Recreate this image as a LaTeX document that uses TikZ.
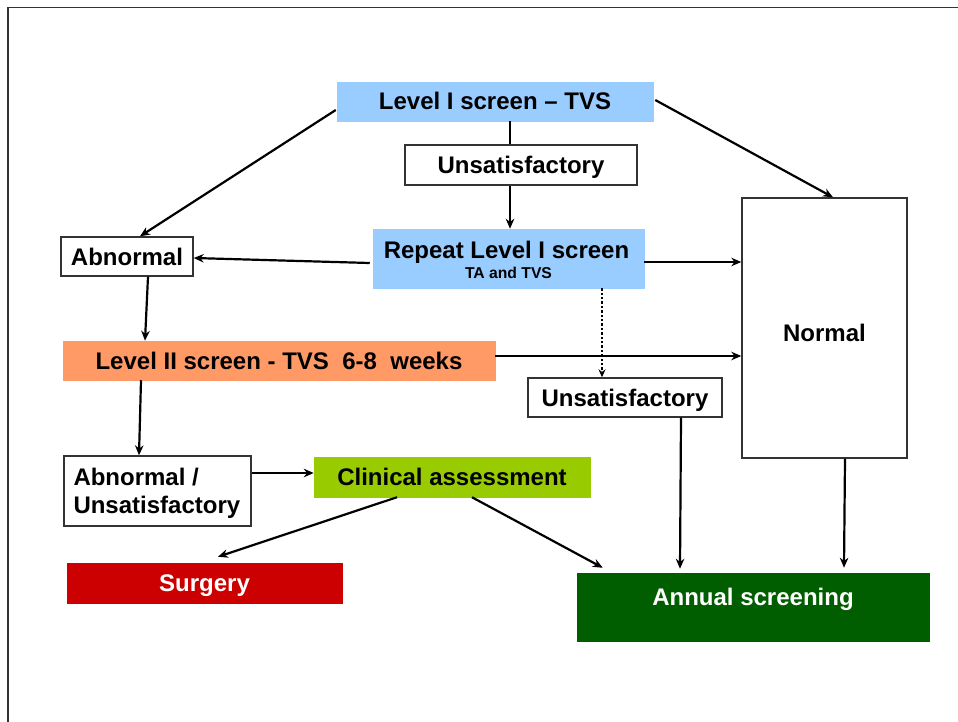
\documentclass[tikz,border=0pt]{standalone}
\usepackage{fontspec}
\setmainfont{Liberation Sans}
\usetikzlibrary{arrows.meta,calc}
\definecolor{cblue}{HTML}{99CCFF}
\definecolor{csalmon}{HTML}{FF9966}
\definecolor{clime}{HTML}{99CC00}
\definecolor{cred}{HTML}{CC0000}
\definecolor{cdgreen}{HTML}{005E00}
\definecolor{cframe}{HTML}{333333}
\begin{document}
\begin{tikzpicture}[x=1pt,y=-1pt,
  every node/.style={font=\fontsize{24}{28}\selectfont\bfseries, inner sep=0pt, anchor=center},
  one/.style={text height=17pt, text depth=0pt},
  wbox/.style={draw=cframe, line width=1.4pt, fill=white},
  cbox/.style={draw=#1, line width=0.5pt, fill=#1},
  arr/.style={line width=2.2pt, -{Stealth[length=10pt,width=8.5pt]}},
  plain/.style={line width=2.2pt}]
\useasboundingbox (0,0) rectangle (958,722);
\draw[cframe, line width=1.4pt] (8,723) -- (8,7.5) -- (959,7.5);
% nodes
\node[cbox=cblue, one, minimum width=316, minimum height=39] (L1) at (495,101.5) {Level I screen -- TVS};
\node[wbox, one, minimum width=232, minimum height=40] (U1) at (521,165) {Unsatisfactory};
\node[cbox=cblue, minimum width=271, minimum height=59] (Rep) at (508.5,258.5) {};
\node[one] (RepA) at ($(Rep.center)+(-2,-8.5)$) {Repeat Level I screen};
\node[font=\fontsize{15.7}{18}\selectfont\bfseries, text height=11pt, text depth=0pt] (RepB) at ($(Rep.center)+(0,14.5)$) {TA and TVS};
\node[wbox, one, minimum width=132, minimum height=39] (Abn) at (127,256.5) {Abnormal};
\node[wbox, minimum width=165, minimum height=260,
  label={[one, yshift=-5pt]center:Normal}] (Norm) at (824.5,328) {};
\node[cbox=csalmon, one, minimum width=432, minimum height=39] (L2) at (279,360.5) {Level II screen - TVS\ \ 6-8\ \ weeks};
\node[wbox, one, minimum width=194, minimum height=39] (U2) at (625,397.5) {Unsatisfactory};
\node[wbox, minimum width=187, minimum height=70,
  label={[align=left, anchor=west, xshift=10pt, yshift=-2pt]west:Abnormal /\\Unsatisfactory}] (AU) at (157.5,491) {};
\node[cbox=clime, one, minimum width=276, minimum height=40] (Clin) at (452,477) {Clinical assessment};
\node[cbox=cred, one, minimum width=275, minimum height=40, text=white] (Surg) at (204.5,583) {Surgery};
\node[cbox=cdgreen, minimum width=352, minimum height=68,
  label={[one, text=white, yshift=10pt]center:Annual screening}] (Ann) at (753,607) {};
% connectors
\draw[arr] ($(L1.west)+(-1,8.5)$) -- ($(Abn.north)+(13,0)$);
\draw[arr] ($(L1.east)+(2,-1.5)$) -- ($(Norm.north)+(8.5,0)$);
\draw[plain] ($(L1.south)+(15,0)$) -- ($(U1.north)+(-11,0)$);
\draw[arr] ($(U1.south)+(-11,0)$) -- ($(Rep.north)+(1.5,0)$);
\draw[arr] ($(Rep.west)+(-3,4.5)$) -- ($(Abn.east)+(0,1.5)$);
\draw[arr] ($(Rep.east)+(0,3.5)$) coordinate (a1) -- (a1 -| Norm.west);
\draw[line width=2.4pt, dotted, -{Stealth[length=8pt,width=7pt]}] ($(Rep.south)+(93.5,0)$) -- ($(U2.north)+(-23,0)$);
\draw[arr] ($(Abn.south)+(21,0)$) -- ($(L2.north)+(-134,0)$);
\draw[arr] ($(L2.east)+(0,-4.5)$) coordinate (a2) -- (a2 -| Norm.west);
\draw[arr] ($(L2.south)+(-138,0)$) -- ($(AU.north)+(-18.5,0)$);
\draw[arr] ($(AU.east)+(0,-18)$) coordinate (a3) -- (a3 -| Clin.west);
\draw[arr] ($(Clin.south)+(-55,0)$) -- ($(Surg.north)+(13.5,-6)$);
\draw[arr] ($(Clin.south)+(20,0)$) -- ($(Ann.north west)+(26,-5)$);
\draw[arr] ($(U2.south)+(56,0)$) -- ($(Ann.north)+(-73,-4)$);
\draw[arr] ($(Norm.south)+(20.5,0)$) -- ($(Ann.north)+(91,-5)$);
\end{tikzpicture}
\end{document}
